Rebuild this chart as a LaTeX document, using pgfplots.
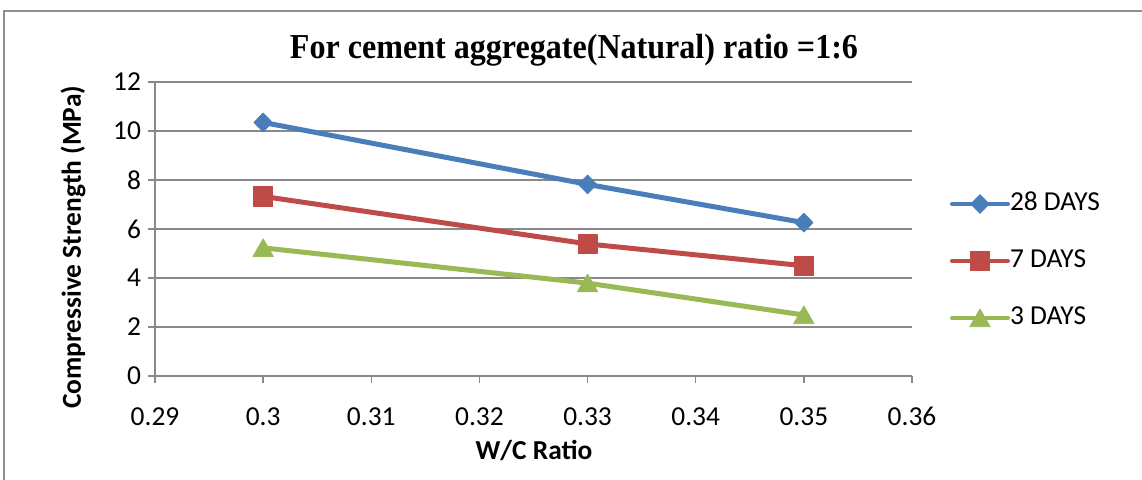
\documentclass[border=0pt]{standalone}
\usepackage{fontspec}
\setmainfont{Carlito}
\newfontfamily\titlefont{Liberation Serif}
\usepackage{graphicx}
\usepackage{pgfplots}
\pgfplotsset{compat=1.18}

\definecolor{xlblue}{HTML}{4A7EBB}
\definecolor{xlred}{HTML}{BE4B48}
\definecolor{xlgreen}{HTML}{98B954}
\definecolor{gridgray}{HTML}{898989}
\definecolor{framegray}{HTML}{8E8E8E}

\newcommand{\chartfont}{\fontsize{13.7pt}{16pt}\selectfont}

\begin{document}
\begin{tikzpicture}[x=1pt,y=1pt]
\path[use as bounding box] (0,0) rectangle (571,240);
% chart area frame (top and left edges)
\draw[framegray, line width=0.8pt] (2,0) -- (2,234.5) -- (571,234.5);

\begin{axis}[
  at={(77.5pt,52pt)}, anchor=south west,
  scale only axis, width=378.5pt, height=147pt,
  xmin=0.29, xmax=0.36, ymin=0, ymax=12,
  xtick={0.29,0.30,0.31,0.32,0.33,0.34,0.35,0.36},
  xticklabels={0.29,0.3,0.31,0.32,0.33,0.34,0.35,0.36},
  ytick={0,2,4,6,8,10,12},
  axis x line*=bottom, axis y line*=left,
  axis line style={gridgray, line width=0.75pt, -},
  ymajorgrids, grid style={gridgray, line width=0.75pt},
  tick align=outside, major tick length=3.5pt,
  tick style={gridgray, line width=0.75pt},
  ticklabel style={font=\chartfont},
  /pgf/number format/assume math mode=true,
  xticklabel style={anchor=base, yshift=-21.2pt, inner sep=0pt},
  yticklabel style={anchor=east, xshift=0pt},
  clip=false,
  legend style={draw=none, fill=none, inner sep=0pt, outer sep=0pt,
    at={(1.0502,0.391)}, anchor=west,
    font=\chartfont, row sep=17pt,
    nodes={inner sep=0pt, text height=9pt, text depth=2.5pt}},
  legend cell align=left,
  /tikz/every odd column/.append style={column sep=0pt},
  legend image code/.code={
    \draw[mark repeat=2, mark phase=2, line width=2pt]
      plot coordinates {(0pt,0pt) (14pt,0pt) (28pt,0pt)};},
  every axis plot/.append style={line width=2.5pt, line join=round, line cap=round},
]
\addplot[xlblue, mark=diamond*, mark size=4.7pt,
  mark options={solid, xscale=1.3, line width=0.4pt}]
  coordinates {(0.30,10.35) (0.33,7.82) (0.35,6.26)};
\addlegendentry{28 DAYS}
\addplot[xlred, mark=square*, mark size=4.8pt,
  mark options={solid, line width=0.4pt}]
  coordinates {(0.30,7.33) (0.33,5.39) (0.35,4.50)};
\addlegendentry{7 DAYS}
\addplot[xlgreen, mark=triangle*, mark size=5.9pt,
  mark options={solid, yshift=-1.4pt, line width=0.4pt}]
  coordinates {(0.30,5.23) (0.33,3.79) (0.35,2.49)};
\addlegendentry{3 DAYS}
\end{axis}

% title and axis titles
\node[anchor=base, inner sep=0pt] at (287,210.5)
  {\resizebox{284pt}{\height}{\titlefont\bfseries\fontsize{17.5pt}{20pt}\selectfont For cement aggregate(Natural) ratio =1:6}};
\node[rotate=90, inner sep=0pt] at (36.5,116.3)
  {\chartfont\bfseries Compressive Strength (MPa)};
\node[anchor=base, inner sep=0pt] at (267,10)
  {\chartfont\bfseries W/C Ratio};
\end{tikzpicture}
\end{document}
